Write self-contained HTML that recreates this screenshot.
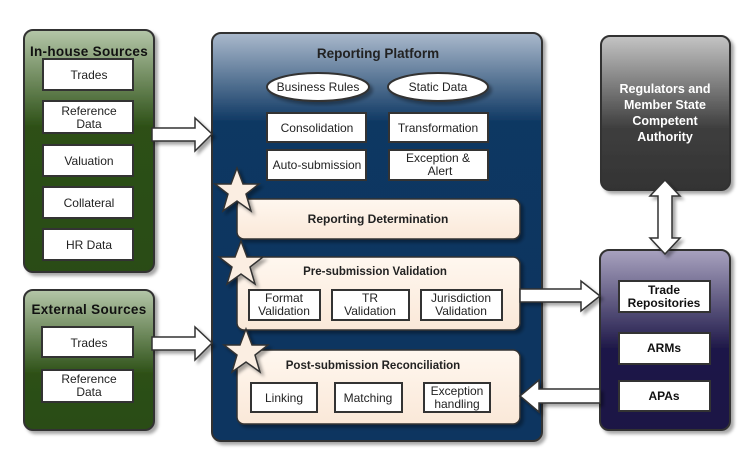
<!DOCTYPE html>
<html><head><meta charset="utf-8"><style>
body{margin:0;background:#fff}
svg{display:block;font-family:"Liberation Sans",sans-serif}
</style></head><body>
<svg width="750" height="463" viewBox="0 0 750 463" xmlns="http://www.w3.org/2000/svg">
<defs>
<linearGradient id="gG" x1="0" y1="0" x2="0" y2="1"><stop offset="0" stop-color="#b4c6a8"/><stop offset="0.4" stop-color="#2d5016"/><stop offset="1" stop-color="#2a4c14"/></linearGradient>
<linearGradient id="gG2" x1="0" y1="0" x2="0" y2="1"><stop offset="0" stop-color="#b4c6a8"/><stop offset="0.6" stop-color="#2d5016"/><stop offset="1" stop-color="#2a4c14"/></linearGradient>
<linearGradient id="gB" x1="0" y1="0" x2="0" y2="1"><stop offset="0" stop-color="#aab9cc"/><stop offset="0.22" stop-color="#0d3762"/><stop offset="1" stop-color="#0a3560"/></linearGradient>
<linearGradient id="gK" x1="0" y1="0" x2="0" y2="1"><stop offset="0" stop-color="#c4c4c4"/><stop offset="0.6" stop-color="#3e3e3e"/><stop offset="1" stop-color="#333"/></linearGradient>
<linearGradient id="gP" x1="0" y1="0" x2="0" y2="1"><stop offset="0" stop-color="#a8a2bf"/><stop offset="0.55" stop-color="#1e1848"/><stop offset="1" stop-color="#1c1645"/></linearGradient>
<linearGradient id="gC" x1="0" y1="0" x2="0" y2="1"><stop offset="0" stop-color="#fff7ef"/><stop offset="1" stop-color="#fae8d8"/></linearGradient>
<filter id="sh" x="-10%" y="-10%" width="130%" height="130%"><feDropShadow dx="3" dy="3" stdDeviation="1.5" flood-color="#000" flood-opacity="0.35"/></filter>
</defs>
<g stroke="#333" stroke-width="2" filter="url(#sh)">
<rect x="24" y="30" width="130" height="242" rx="9" fill="url(#gG)"/>
<rect x="24" y="290" width="130" height="140" rx="9" fill="url(#gG2)"/>
<rect x="212" y="33" width="330" height="408" rx="9" fill="url(#gB)"/>
<rect x="601" y="36" width="129" height="154" rx="9" fill="url(#gK)"/>
<rect x="600" y="250" width="130" height="180" rx="9" fill="url(#gP)"/>
</g>
<g fill="#fff" stroke="#333" stroke-width="2">
<rect x="43" y="59" width="90" height="31"/>
<rect x="43" y="101" width="90" height="32"/>
<rect x="43" y="145" width="90" height="31"/>
<rect x="43" y="187" width="90" height="31"/>
<rect x="43" y="229" width="90" height="31"/>
<rect x="42" y="327" width="91" height="30"/>
<rect x="42" y="370" width="91" height="32"/>
<ellipse cx="318" cy="87" rx="51" ry="14" filter="url(#sh)"/>
<ellipse cx="438" cy="87" rx="50" ry="14" filter="url(#sh)"/>
<rect x="267" y="113" width="99" height="29"/>
<rect x="389" y="113" width="99" height="29"/>
<rect x="267" y="150" width="99" height="30"/>
<rect x="389" y="150" width="99" height="30"/>
<rect x="619" y="281" width="91" height="31"/>
<rect x="619" y="333" width="91" height="31"/>
<rect x="619" y="381" width="91" height="30"/>
</g>
<g fill="url(#gC)" stroke="#333" stroke-width="1.5" filter="url(#sh)">
<rect x="237" y="199" width="283" height="40" rx="7"/>
<rect x="237" y="257" width="283" height="73" rx="7"/>
<rect x="237" y="350" width="283" height="74" rx="7"/>
</g>
<g fill="#fff" stroke="#333" stroke-width="2">
<rect x="249" y="290" width="71" height="30"/>
<rect x="332" y="290" width="77" height="30"/>
<rect x="421" y="290" width="81" height="30"/>
<rect x="251" y="383" width="66" height="29"/>
<rect x="335" y="383" width="67" height="29"/>
<rect x="424" y="383" width="66" height="29"/>
</g>
<g fill="#fff" stroke="#333" stroke-width="1.5" filter="url(#sh)">
<polygon points="152,128 195,128 195,118 212,134 195,151 195,141 152,141"/>
<polygon points="152,337 195,337 195,327 212,343 195,360 195,350 152,350"/>
<polygon points="520,289 581,289 581,281 600,296 581,311 581,302 520,302"/>
<polygon points="600,389 539,389 539,380 520,396 539,412 539,403 600,403"/>
<polygon points="665,180 680,196 672,196 672,238 680,238 665,254 650,238 658,238 658,196 650,196"/>
<polygon fill="#fbeee2" points="237,168 243,184 259,184 246,194 251,211 237,201 223,211 228,194 215,184 231,184"/>
<polygon fill="#fbeee2" points="241,241 247,257 263,257 250,267 255,284 241,274 227,284 232,267 219,257 235,257"/>
<polygon fill="#fbeee2" points="246,329 252,345 268,345 255,355 260,372 246,362 232,372 237,355 224,345 240,345"/>
</g>
<g font-size="12" fill="#222" text-anchor="middle">
<text x="89" y="56" font-weight="bold" font-size="13.5" fill="#111" letter-spacing="0.3">In-house Sources</text>
<text x="89" y="79">Trades</text>
<text x="89" y="115">Reference</text><text x="89" y="128">Data</text>
<text x="89" y="165">Valuation</text>
<text x="89" y="207">Collateral</text>
<text x="89" y="249">HR Data</text>
<text x="89" y="314" font-weight="bold" font-size="13.5" fill="#111" letter-spacing="0.3">External Sources</text>
<text x="89" y="347">Trades</text>
<text x="89" y="383">Reference</text><text x="89" y="396">Data</text>
<text x="378" y="58" font-weight="bold" font-size="13.5">Reporting Platform</text>
<text x="318" y="91">Business Rules</text>
<text x="438" y="91">Static Data</text>
<text x="317" y="132">Consolidation</text>
<text x="438" y="132">Transformation</text>
<text x="317" y="169">Auto-submission</text>
<text x="438" y="162">Exception &amp;</text><text x="440" y="175">Alert</text>
<text x="378" y="223" font-size="12" font-weight="bold">Reporting Determination</text>
<text x="375" y="275" font-weight="bold" font-size="11.5">Pre-submission Validation</text>
<text x="284" y="302">Format</text><text x="284" y="315">Validation</text>
<text x="370" y="302">TR</text><text x="370" y="315">Validation</text>
<text x="461" y="302">Jurisdiction</text><text x="461" y="315">Validation</text>
<text x="373" y="369" font-weight="bold" font-size="11.5">Post-submission Reconciliation</text>
<text x="284" y="402">Linking</text>
<text x="368" y="402">Matching</text>
<text x="457" y="395">Exception</text><text x="457" y="408">handling</text>
<g font-weight="bold" fill="#fff" font-size="12.5"><text x="665" y="93">Regulators and</text><text x="665" y="109">Member State</text><text x="665" y="125">Competent</text><text x="665" y="141">Authority</text></g>
<g font-weight="bold" fill="#111"><text x="664" y="294">Trade</text><text x="664" y="307">Repositories</text><text x="664" y="352">ARMs</text><text x="664" y="400">APAs</text></g>
</g>
</svg>
</body></html>
